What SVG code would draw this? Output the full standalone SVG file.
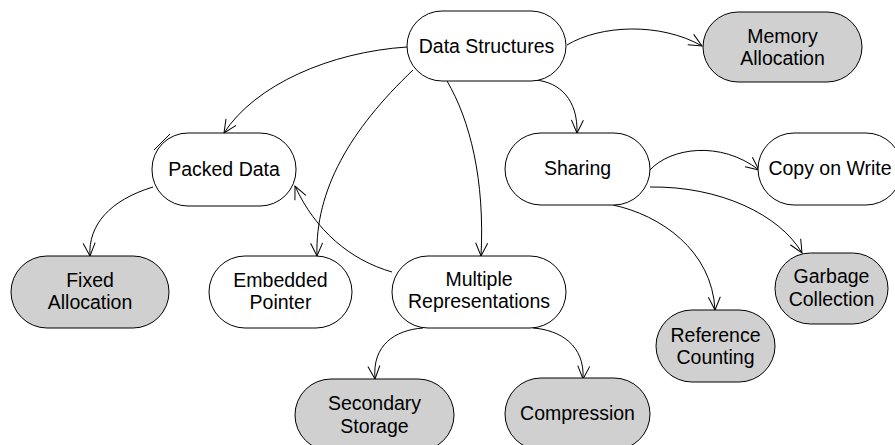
<svg xmlns="http://www.w3.org/2000/svg" width="895" height="445" viewBox="0 0 895 445">
  <style>
    .node rect { stroke: #000; stroke-width: 1; fill: #fff; }
    .node.leaf rect { fill: #d0d0d0; }
    .node text { font-family: "Liberation Sans", Arial, sans-serif; font-size: 19.5px; fill: #000; text-anchor: middle; }
    .edges path { fill: none; stroke: #000; stroke-width: 1; }
  </style>
  <defs>
    <marker id="arrow" markerUnits="userSpaceOnUse" markerWidth="16" markerHeight="14" refX="0" refY="0" viewBox="-14 -7 16 14" orient="auto" overflow="visible">
      <path d="M-13,-6 L0,0 L-13,6" fill="none" stroke="#000" stroke-width="1"/>
    </marker>
  </defs>
  <rect width="895" height="445" fill="#fff"/>

  <g class="edges">
    <path d="M567,45 C600,25 660,22 702,46" marker-end="url(#arrow)"/>
    <path d="M407,47 C330,52 255,85 224,133" marker-end="url(#arrow)"/>
    <path d="M413,70 C350,130 315,190 317,256" marker-end="url(#arrow)"/>
    <path d="M447,81 C470,120 485,180 481,256" marker-end="url(#arrow)"/>
    <path d="M535,80 C560,82 578,100 577,133" marker-end="url(#arrow)"/>
    <path d="M153,187 C110,200 88,225 90,256" marker-end="url(#arrow)"/>
    <path d="M392,272 C350,260 315,230 295,186" marker-end="url(#arrow)"/>
    <path d="M423,328 C395,330 372,345 375,379" marker-end="url(#arrow)"/>
    <path d="M533,328 C560,330 585,345 583,379" marker-end="url(#arrow)"/>
    <path d="M650,170 C670,148 720,140 759,170" marker-end="url(#arrow)"/>
    <path d="M650,187 C720,186 780,215 802,253" marker-end="url(#arrow)"/>
    <path d="M613,205 C660,215 712,250 715,310" marker-end="url(#arrow)"/>
    <path d="M154,150 L170,134"/>
  </g>

  <g id="data-structures" class="node">
    <rect x="407" y="11" width="159" height="70" rx="35"/>
    <text x="486.5" y="53">Data Structures</text>
  </g>
  <g id="memory-allocation" class="node leaf">
    <rect x="703" y="12" width="159" height="70" rx="35"/>
    <text x="782.5" y="43">Memory</text>
    <text x="782.5" y="65">Allocation</text>
  </g>
  <g id="packed-data" class="node">
    <rect x="152" y="133" width="144" height="73" rx="36"/>
    <text x="224" y="176">Packed Data</text>
  </g>
  <g id="sharing" class="node">
    <rect x="505" y="133" width="145" height="72" rx="36"/>
    <text x="577.5" y="175">Sharing</text>
  </g>
  <g id="copy-on-write" class="node">
    <rect x="758" y="133" width="144" height="72" rx="36"/>
    <text x="830" y="175">Copy on Write</text>
  </g>
  <g id="fixed-allocation" class="node leaf">
    <rect x="11" y="256" width="158" height="72" rx="36"/>
    <text x="90" y="287">Fixed</text>
    <text x="90" y="309">Allocation</text>
  </g>
  <g id="embedded-pointer" class="node">
    <rect x="209" y="256" width="143" height="72" rx="36"/>
    <text x="280.5" y="287">Embedded</text>
    <text x="280.5" y="309">Pointer</text>
  </g>
  <g id="multiple-representations" class="node">
    <rect x="392" y="256" width="174" height="72" rx="36"/>
    <text x="479" y="286">Multiple</text>
    <text x="479" y="308">Representations</text>
  </g>
  <g id="garbage-collection" class="node leaf">
    <rect x="775" y="253" width="113" height="71" rx="35.5"/>
    <text x="831.5" y="283">Garbage</text>
    <text x="831.5" y="306">Collection</text>
  </g>
  <g id="reference-counting" class="node leaf">
    <rect x="656" y="310" width="119" height="72" rx="36"/>
    <text x="715.5" y="342">Reference</text>
    <text x="715.5" y="364">Counting</text>
  </g>
  <g id="secondary-storage" class="node leaf">
    <rect x="295" y="379" width="159" height="72" rx="36"/>
    <text x="374.5" y="410">Secondary</text>
    <text x="374.5" y="433">Storage</text>
  </g>
  <g id="compression" class="node leaf">
    <rect x="505" y="378" width="145" height="72" rx="36"/>
    <text x="577.5" y="420">Compression</text>
  </g>
</svg>
